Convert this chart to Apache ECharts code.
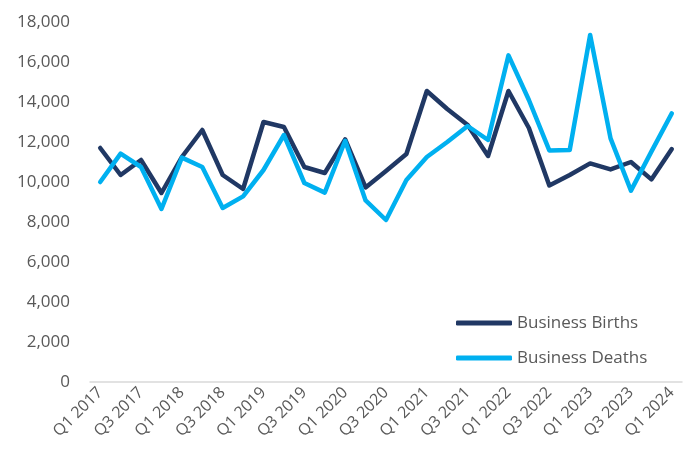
<!DOCTYPE html>
<html><head><meta charset="utf-8">
<script src="https://cdn.jsdelivr.net/npm/echarts@6/dist/echarts.min.js"></script>
<style>html,body{margin:0;padding:0;background:#fff}#c{width:688px;height:458px}</style>
</head><body><div id="c"></div>
<script>
const categories = ["Q1 2017","Q2 2017","Q3 2017","Q4 2017","Q1 2018","Q2 2018","Q3 2018","Q4 2018","Q1 2019","Q2 2019","Q3 2019","Q4 2019","Q1 2020","Q2 2020","Q3 2020","Q4 2020","Q1 2021","Q2 2021","Q3 2021","Q4 2021","Q1 2022","Q2 2022","Q3 2022","Q4 2022","Q1 2023","Q2 2023","Q3 2023","Q4 2023","Q1 2024"];
const businessBirths = [11700,10350,11100,9450,11250,12600,10350,9650,13000,12750,10750,10450,12130,9730,10550,11400,14550,13650,12850,11300,14550,12700,9830,10350,10930,10630,11000,10130,11650];
const businessDeaths = [10000,11420,10750,8650,11220,10750,8700,9280,10600,12350,9950,9470,12060,9080,8100,10100,11250,12000,12800,12100,16330,14100,11580,11600,17350,12180,9570,11520,13430];
const yMin = 0, yMax = 18000, yStep = 2000;
const FONT = 'Open Sans';
const chart = echarts.init(document.getElementById('c'), null, {renderer:'canvas'});
chart.setOption({
  animation:false,
  textStyle:{fontFamily:FONT},
  grid:{left:90,right:6,top:22,bottom:76,containLabel:false},
  legend:{
    orient:'vertical', left:451, top:307, itemWidth:56, itemHeight:5, itemGap:13,
    icon:'roundRect',
    textStyle:{fontFamily:FONT,fontSize:17,color:'#595959',lineHeight:22},
    data:['Business Births','Business Deaths']
  },
  xAxis:{
    type:'category', data:categories, boundaryGap:true,
    axisLine:{lineStyle:{color:'#d9d9d9',width:1.5}},
    axisTick:{show:false},
    axisLabel:{interval:1,rotate:45,fontFamily:FONT,fontSize:16,color:'#595959',margin:8}
  },
  yAxis:{
    type:'value', min:yMin, max:yMax, interval:yStep,
    splitLine:{show:false}, axisLine:{show:false}, axisTick:{show:false},
    axisLabel:{fontFamily:FONT,fontSize:17,color:'#595959',margin:20,
      formatter:v=>v.toLocaleString('en-US')}
  },
  series:[
    {name:'Business Births',type:'line',data:businessBirths,symbol:'none',
     lineStyle:{color:'#203864',width:4.5,cap:'round',join:'round'},itemStyle:{color:'#203864'}},
    {name:'Business Deaths',type:'line',data:businessDeaths,symbol:'none',
     lineStyle:{color:'#00b0f0',width:4.5,cap:'round',join:'round'},itemStyle:{color:'#00b0f0'}}
  ]
});
</script></body></html>
